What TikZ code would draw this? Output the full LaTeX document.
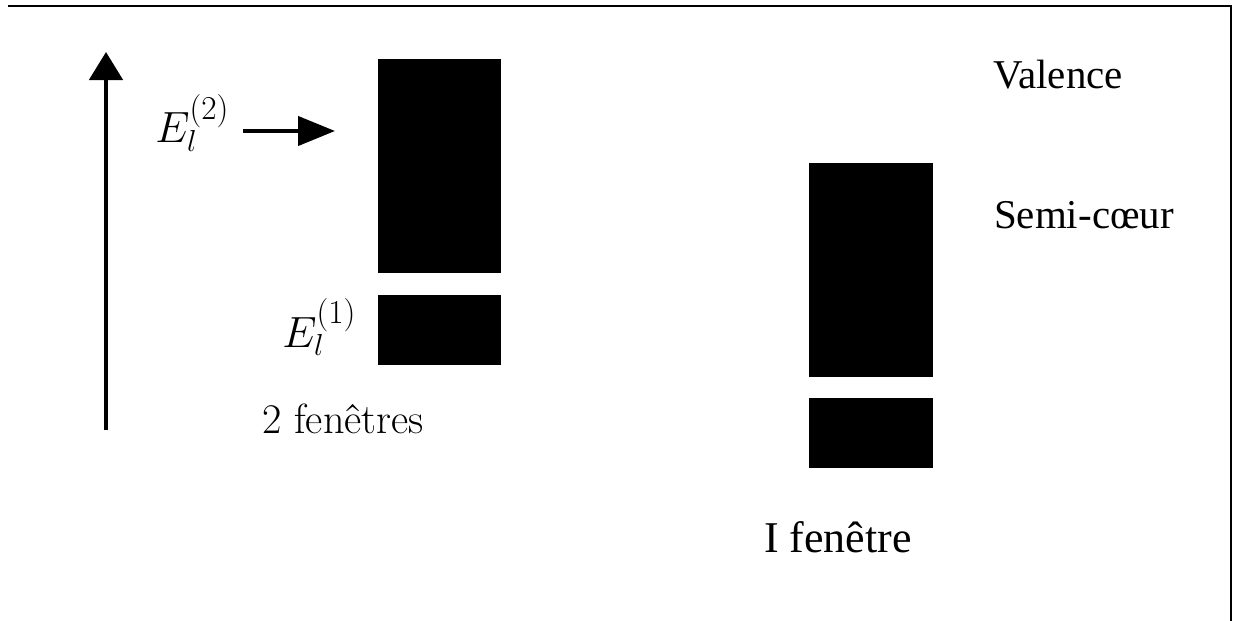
\documentclass[tikz,border=0pt]{standalone}
\usepackage{fontspec}
\newfontfamily\timesfont{Liberation Serif}
\newcommand{\supidx}[1]{\mbox{\fontsize{19}{20}\selectfont(#1)}}
\usetikzlibrary{arrows.meta,positioning}

\tikzset{
    band/.style={fill=black, inner sep=0pt, minimum width=2.46cm, anchor=north west},
    lbl/.style={font=\timesfont\fontsize{23.3}{28}\selectfont, inner sep=0pt, anchor=base},
    level/.style={inner sep=0pt, anchor=base west, font=\fontsize{23.3}{28}\selectfont},
    axis/.style={line width=2.3pt, -{Triangle[length=16pt, width=19pt]}},
    pointer/.style={line width=2.3pt, -{Triangle[length=21pt, width=16.5pt]}}
}

\begin{document}
\begin{tikzpicture}[x=0.02cm, y=-0.02cm]
    \useasboundingbox (0,0) rectangle (1233,621);
    \draw[line width=1.1pt] (8,6) -- (1231,6) -- (1231,621);

    % energy axis
    \coordinate (axbot) at (106,430);
    \coordinate (axtop) at (106,52);
    \draw[axis] (axbot) -- (axtop);

    % two windows
    \node[band, minimum height=4.28cm] at (378,59) (hi2) {};
    \node[band, minimum height=1.40cm] at (378,295) (lo2) {};
    \node[level] at (155,143) (e2) {$E_l^{\raisebox{2pt}{\supidx{2}}}$};
    \node[level] at (282,347) (e1) {$E_l^{\raisebox{2pt}{\supidx{1}}}$};
    \coordinate (e2tail) at (243,131);
    \coordinate (e2tip) at (335,131);
    \draw[pointer] (e2tail) -- (e2tip);
    \node[inner sep=0pt, anchor=base, font=\fontsize{24}{28}\selectfont] at (343,433) (two) {2 fenêtres};

    % one window
    \node[band, minimum height=4.28cm, minimum width=2.48cm] at (809,163) (hi1) {};
    \node[band, minimum height=1.40cm, minimum width=2.48cm] at (809,398) (lo1) {};
    \node[lbl, font=\timesfont\fontsize{25}{30}\selectfont] at (838,552) (one) {I fenêtre};

    \node[lbl] at (1058,89) (val) {Valence};
    \node[lbl] at (1084,229) (semi) {Semi-cœur};
\end{tikzpicture}
\end{document}
